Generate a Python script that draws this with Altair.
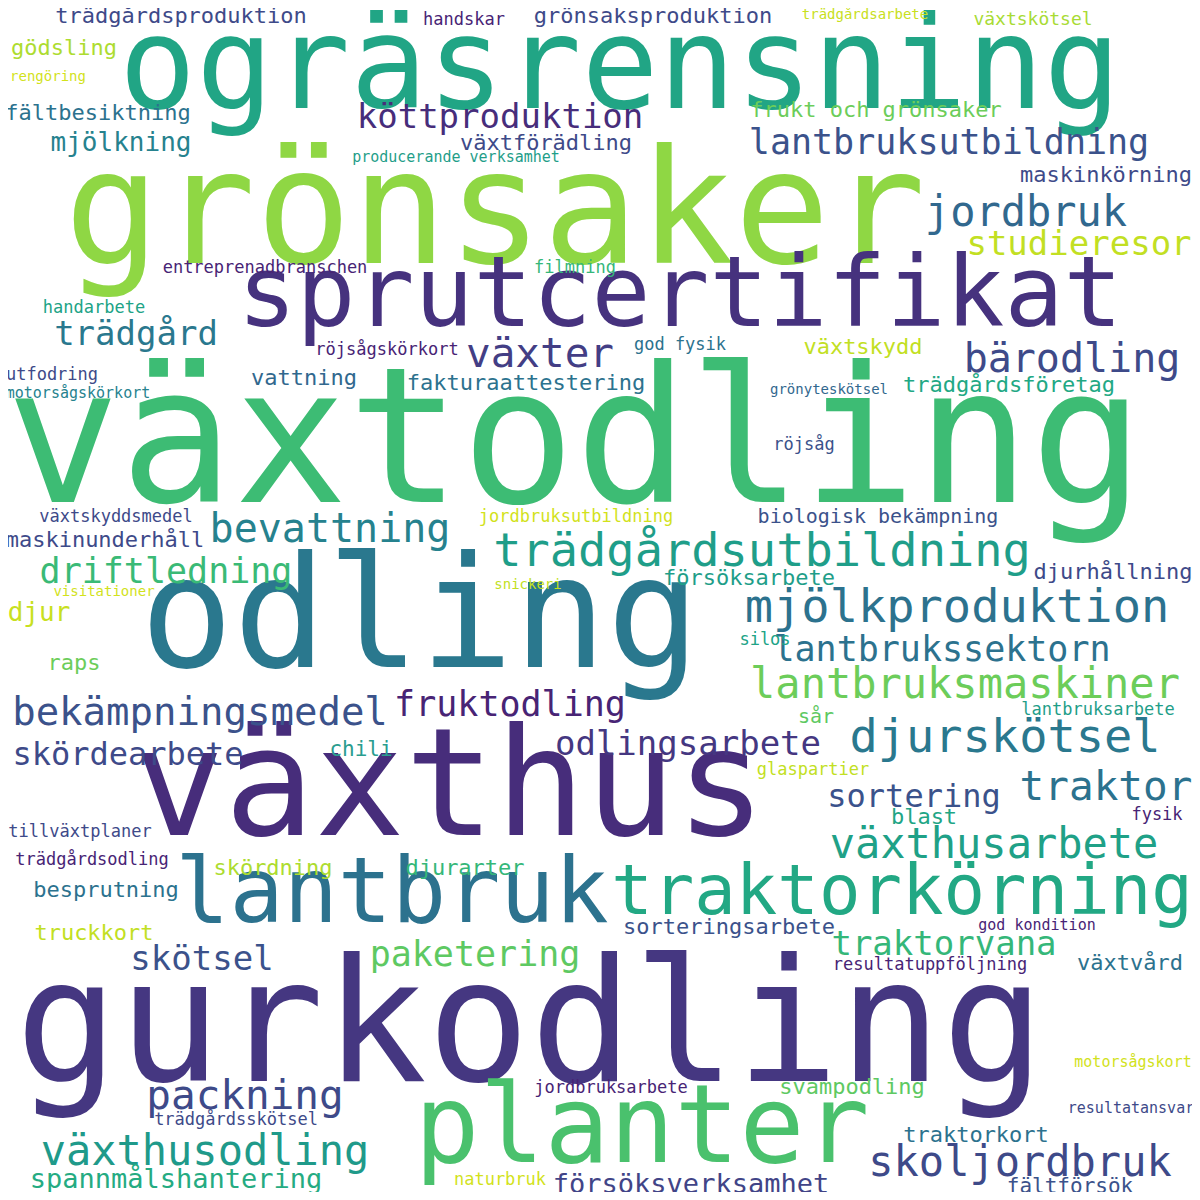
import altair as alt
import pandas as pd

words = ["ogräsrensning","grönsaker","sprutcertifikat","växtodling","odling","växthus","lantbruk","traktorkörning","gurkodling","planter",
"trädgårdsutbildning","mjölkproduktion","lantbruksmaskiner","djurskötsel","bekämpningsmedel","fruktodling","odlingsarbete","skördearbete","köttproduktion","lantbruksutbildning",
"jordbruk","studieresor","trädgård","växter","bärodling","bevattning","driftledning","lantbrukssektorn","sortering","traktor",
"växthusarbete","traktorvana","paketering","skötsel","packning","växthusodling","spannmålshantering","skoljordbruk","försöksverksamhet","traktorkort",
"fältförsök","trädgårdsproduktion","grönsaksproduktion","handskar","trädgårdsarbete","växtskötsel","gödsling","rengöring","frukt och grönsaker","fältbesiktning",
"mjölkning","växtförädling","producerande verksamhet","maskinkörning","entreprenadbranschen","filmning","handarbete","god fysik","växtskydd","röjsågskörkort",
"utfodring","vattning","fakturaattestering","trädgårdsföretag","motorsågskörkort","grönyteskötsel","röjsåg","växtskyddsmedel","jordbruksutbildning","biologisk bekämpning",
"maskinunderhåll","försöksarbete","djurhållning","visitationer","snickeri","djur","raps","silos","lantbruksarbete","sår",
"chili","glaspartier","blast","fysik","tillväxtplaner","trädgårdsodling","skördning","djurarter","besprutning","truckkort",
"sorteringsarbete","god kondition","resultatuppföljning","växtvård","motorsågskort","svampodling","jordbruksarbete","trädgårdsskötsel","resultatansvar","naturbruk"]

xs = [620,495,680,575,420,450,392,902,530,642,
762,957,965,1005,200,510,688,128,500,949,
1026,1079,136,540,1072,330,166,942,914,1106,
994,944,475,202,245,205,176,1020,691,976,
1070,181,653,464,865,1033,64,48,876,98,
121,546,456,1106,265,575,94,680,863,387,
52,304,526,1009,78,829,804,116,576,878,
105,749,1113,104,528,39,74,765,1098,816,
361,813,924,1157,80,92,273,465,106,94,
729,1037,930,1130,1133,852,611,236,1131,500]

ys = [70,215,297,445,620,790,895,893,1030,1130,
552,608,685,738,713,705,745,755,118,143,
213,245,335,355,360,530,572,650,797,788,
845,945,955,960,1097,1152,1180,1163,1185,1135,
1187,16,16,20,15,20,48,77,110,113,
143,143,157,175,268,268,308,345,347,350,
375,378,383,385,393,390,445,517,517,517,
540,578,572,592,585,613,663,640,710,717,
750,770,817,815,832,860,868,868,890,933,
927,925,965,963,1062,1087,1088,1120,1108,1180]

sizes = [128,159,98,189,155,150,90,69,171,108,
47,47,42,47,39,35,34,32,34,35,
42,34,34,41,40,40,35,35,32,41,
42,34,35,34,41,42,27,42,27,22,
21,22,22,17,14,18,22,14,22,22,
26,22,15,22,17,17,17,17,22,17,
17,22,22,22,15,14,17,17,17,20,
22,22,22,14,14,26,22,17,17,20,
21,17,22,17,17,17,22,22,22,22,
22,15,17,22,15,22,17,17,15,17]

colors = ["#21a585","#8fd744","#46327e","#3dbc74","#2a788e","#472d7b","#2c728e","#22a884","#453781","#4ac16d",
"#1f9e89","#2c728e","#6ccd5a","#2a788e","#3b528b","#482475","#453781","#3e4a89","#472d7b","#3b528b",
"#31688e","#c2df23","#2a788e","#433e85","#3e4a89","#26828e","#3aba76","#2c728e","#3b528b","#2c728e",
"#1fa187","#35b779","#5ec962","#3b528b","#3e4a89","#1f9a8a","#25ab82","#3e4a89","#414487","#2c728e",
"#3b528b","#3e4a89","#3e4a89","#482475","#c8e020","#a8db34","#addc30","#d2e21b","#6ccd5a","#2c728e",
"#26828e","#3e4a89","#1f9e89","#3e4a89","#482475","#35b779","#20a386","#2c728e","#c2df23","#482475",
"#3e4a89","#31688e","#2c728e","#22a884","#26828e","#31688e","#3b528b","#3e4a89","#d2e21b","#3b528b",
"#3e4a89","#1f9e89","#3e4a89","#d2e21b","#c2df23","#c8e020","#6ccd5a","#20a386","#1f9e89","#5ec962",
"#2a9d8f","#c2df23","#21a585","#482475","#3e4a89","#482475","#addc30","#35b779","#2c728e","#c2df23",
"#3b528b","#482475","#482475","#2c728e","#d2e21b","#5ec962","#482475","#3e4a89","#3e4a89","#d2e21b"]

df = pd.DataFrame({"word": words, "x": xs, "y": ys, "size": sizes, "color": colors})

chart = alt.Chart(df).mark_text(font="DejaVu Sans Mono", align="center", baseline="middle").encode(
    x=alt.X("x:Q", scale=alt.Scale(domain=[8, 1192]), axis=None),
    y=alt.Y("y:Q", scale=alt.Scale(domain=[8, 1192], reverse=True), axis=None),
    text="word:N",
    size=alt.Size("size:Q", scale=None, legend=None),
    color=alt.Color("color:N", scale=None, legend=None),
).properties(width=1184, height=1184, padding=0, autosize="none", background="white"
).configure_view(stroke=None)

chart.save("out.html", embed_options={"renderer": "svg", "actions": False})
